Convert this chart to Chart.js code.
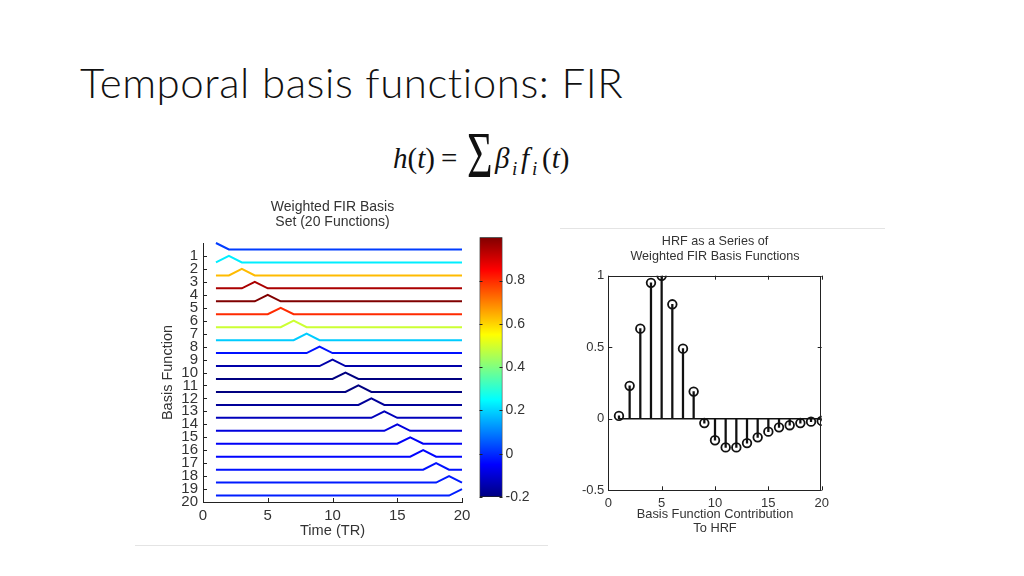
<!DOCTYPE html>
<html>
<head>
<meta charset="utf-8">
<title>Temporal basis functions: FIR</title>
<script src="https://cdn.jsdelivr.net/npm/chart.js@4.4.0/dist/chart.umd.min.js"></script>
<style>
  body { margin: 0; background: #fff; width: 1024px; height: 576px; overflow: hidden; position: relative; }
  #slideTitle { position: absolute; left: 80px; top: 60.5px; font-family: Lato, "Open Sans", sans-serif; font-weight: 300; font-size: 42px; line-height: 42px; color: #111; white-space: nowrap; }
  .fm { position: absolute; font-family: "Liberation Serif", "DejaVu Serif", serif; color: #111; white-space: nowrap; }
  .fm i { font-style: italic; }
  .main { font-size: 29px; line-height: 29px; top: 143.7px; }
  .sub { font-size: 19px; line-height: 19px; top: 158.6px; font-style: italic; }
  .sigma { font-size: 44px; line-height: 44px; top: 141.2px; display: inline-block; transform-origin: 50% 36.85px; transform: scaleY(1.48); }
  canvas { position: absolute; }
  .edge { position: absolute; height: 1px; background: #e4e4e4; }
</style>
</head>
<body>
<div id="slideTitle">Temporal basis functions: FIR</div>
<span class="fm main" style="left:393px;"><i>h</i>(<i>t</i>)</span>
<span class="fm main" style="left:441px;">=</span>
<span class="fm sigma" style="left:467px;">&Sigma;</span>
<span class="fm main" style="left:495px;"><i>&beta;</i></span>
<span class="fm sub" style="left:512px;">i</span>
<span class="fm main" style="left:521px;"><i>f</i></span>
<span class="fm sub" style="left:532px;">i</span>
<span class="fm main" style="left:542px;">(<i>t</i>)</span>
<div class="edge" style="left:135px; top:545px; width:413px;"></div>
<div class="edge" style="left:560px; top:228px; width:325px;"></div>
<canvas id="basisChart" width="330" height="350" style="left:150px; top:195px;"></canvas>
<canvas id="colorbar" width="70" height="290" style="left:470px; top:225px;"></canvas>
<canvas id="hrfChart" width="330" height="312" style="left:560px; top:228px;"></canvas>
<script>
// time samples (TR) and the FIR basis set
const timePoints = [1, 2, 3, 4, 5, 6, 7, 8, 9, 10, 11, 12, 13, 14, 15, 16, 17, 18, 19, 20];
const peakTimes = [1, 2, 3, 4, 5, 6, 7, 8, 9, 10, 11, 12, 13, 14, 15, 16, 17, 18, 19, 20];
const baselineLevels = [0.5, 1.5, 2.5, 3.5, 4.5, 5.5, 6.5, 7.5, 8.5, 9.5, 10.5, 11.5, 12.5, 13.5, 14.5, 15.5, 16.5, 17.5, 18.5, 19.5];
const peakHeight = 0.5;

// weights of each basis function (the HRF)
const hrfWeights = [0.02, 0.23, 0.63, 0.95, 1.0, 0.8, 0.49, 0.19, -0.03, -0.15,
  -0.2, -0.2, -0.17, -0.13, -0.09, -0.06, -0.045, -0.03, -0.02, -0.015];

// tick labels
const basisTicks = [1, 2, 3, 4, 5, 6, 7, 8, 9, 10, 11, 12, 13, 14, 15, 16, 17, 18, 19, 20];
const timeTicks = [0, 5, 10, 15, 20];
const hrfTicks = [-0.5, 0, 0.5, 1];
const colorbarTicks = [-0.2, 0, 0.2, 0.4, 0.6, 0.8];
const colorRange = [-0.2, 1.0];

const textColor = "#333";
const sans = "'Liberation Sans', Arial, sans-serif";

// fit the slide title to the width it has on the slide
const titleEl = document.getElementById("slideTitle");
const tw = titleEl.getBoundingClientRect().width;
titleEl.style.letterSpacing = ((544 - tw) / 29).toFixed(2) + "px";

function jet(w) {
  const v = Math.min(1, Math.max(0, (w - colorRange[0]) / (colorRange[1] - colorRange[0])));
  const c = (x) => Math.round(255 * Math.min(1, Math.max(0, 1.5 - Math.abs(4 * v - x))));
  return `rgb(${c(3)},${c(2)},${c(1)})`;
}

// MATLAB-style tick marks pointing into the axes
const innerTicks = {
  id: "innerTicks",
  afterDraw(chart, args, opts) {
    const { ctx, chartArea: a } = chart;
    const len = opts.length || 4;
    ctx.save();
    ctx.strokeStyle = opts.color || "#222";
    ctx.lineWidth = 1;
    if (opts.box) {
      ctx.strokeRect(Math.round(a.left) + 0.5, Math.round(a.top) + 0.5, Math.round(a.width) - 1, Math.round(a.height) - 1);
    }
    ctx.beginPath();
    Object.values(chart.scales).forEach((s) => {
      if (!s.options.display) return;
      s.ticks.forEach((t) => {
        const p = Math.round(s.getPixelForValue(t.value)) + 0.5;
        if (s.isHorizontal()) {
          ctx.moveTo(p, a.bottom); ctx.lineTo(p, a.bottom - len);
          if (opts.mirror) { ctx.moveTo(p, a.top); ctx.lineTo(p, a.top + len); }
        } else {
          ctx.moveTo(a.left, p); ctx.lineTo(a.left + len, p);
          if (opts.mirror) { ctx.moveTo(a.right, p); ctx.lineTo(a.right - len, p); }
        }
      });
    });
    ctx.stroke();
    ctx.restore();
  },
};

// left: weighted FIR basis set
new Chart(document.getElementById("basisChart"), {
  type: "line",
  data: {
    datasets: peakTimes.map((pk, i) => ({
      data: timePoints.map((t) => ({ x: t, y: baselineLevels[i] - (t === pk ? peakHeight : 0) })),
      borderColor: jet(hrfWeights[i]),
      borderWidth: 2,
      pointRadius: 0,
      tension: 0,
      clip: false,
    })),
  },
  options: {
    responsive: false,
    animation: false,
    layout: { padding: { right: 18 } },
    plugins: {
      legend: { display: false },
      tooltip: { enabled: false },
      title: {
        display: true,
        text: ["Weighted FIR Basis", "Set (20 Functions)"],
        fullSize: false,
        color: textColor,
        font: { family: sans, size: 14, weight: "normal", lineHeight: 15 / 14 },
        padding: { top: 5, bottom: 13 },
      },
      innerTicks: { length: 4 },
    },
    scales: {
      x: {
        type: "linear",
        min: 0,
        max: 20,
        afterBuildTicks: (s) => { s.ticks = timeTicks.map((v) => ({ value: v })); },
        afterFit: (s) => { s.height = 43; },
        ticks: { color: textColor, font: { family: sans, size: 15 }, padding: 5, maxRotation: 0 },
        grid: { display: false, drawTicks: false },
        border: { display: true, color: "#222", width: 1 },
        title: { display: true, text: "Time (TR)", color: textColor, font: { family: sans, size: 14.6 }, padding: { top: 0, bottom: 5 } },
      },
      y: {
        type: "linear",
        min: 0,
        max: 20,
        reverse: true,
        afterBuildTicks: (s) => { s.ticks = basisTicks.map((v) => ({ value: v })); },
        afterFit: (s) => { s.width = 53; },
        ticks: { color: textColor, font: { family: sans, size: 15 }, padding: 5, autoSkip: false },
        grid: { display: false, drawTicks: false },
        border: { display: true, color: "#222", width: 1 },
        title: { display: true, text: "Basis Function", color: textColor, font: { family: sans, size: 14.5 }, padding: { top: 9, bottom: 0 } },
      },
    },
  },
  plugins: [innerTicks],
});

// colour bar for the weights
new Chart(document.getElementById("colorbar"), {
  type: "bar",
  data: {
    labels: ["weight"],
    datasets: [{
      data: [colorRange],
      backgroundColor: (c) => {
        const area = c.chart.chartArea;
        if (!area) return "#888";
        const g = c.chart.ctx.createLinearGradient(0, area.bottom, 0, area.top);
        for (let k = 0; k <= 16; k++) {
          const v = k / 16;
          g.addColorStop(v, jet(colorRange[0] + v * (colorRange[1] - colorRange[0])));
        }
        return g;
      },
      borderColor: "#222",
      borderWidth: 1,
      borderSkipped: false,
      barPercentage: 1,
      categoryPercentage: 1,
    }],
  },
  options: {
    responsive: false,
    animation: false,
    layout: { padding: { left: 9.5, top: 12.3, bottom: 18 } },
    plugins: {
      legend: { display: false },
      tooltip: { enabled: false },
      innerTicks: { length: 3, mirror: true },
    },
    scales: {
      x: { display: false },
      y: {
        position: "right",
        min: colorRange[0],
        max: colorRange[1],
        afterBuildTicks: (s) => { s.ticks = colorbarTicks.map((v) => ({ value: v })); },
        afterFit: (s) => { s.width = 37.5; },
        ticks: { color: textColor, font: { family: sans, size: 14 }, padding: 3, callback: (v) => String(Math.round(v * 10) / 10) },
        grid: { display: false, drawTicks: false },
        border: { display: false },
      },
    },
  },
  plugins: [innerTicks],
});

// right: HRF as stems
const stemPoints = hrfWeights.map((w, i) => ({ x: timePoints[i], y: w }));
new Chart(document.getElementById("hrfChart"), {
  data: {
    datasets: [
      {
        type: "line",
        data: [{ x: timePoints[0], y: 0 }, { x: timePoints[timePoints.length - 1], y: 0 }],
        borderColor: "#111",
        borderWidth: 1.5,
        pointRadius: 0,
      },
      {
        type: "bar",
        data: stemPoints,
        backgroundColor: "#111",
        barThickness: 1.6,
        borderWidth: 0,
      },
      {
        type: "line",
        data: stemPoints,
        showLine: false,
        pointRadius: 4.3,
        pointBorderWidth: 1.8,
        pointBorderColor: "#111",
        pointBackgroundColor: "rgba(255,255,255,0)",
      },
    ],
  },
  options: {
    responsive: false,
    animation: false,
    layout: { padding: { right: 68.3 } },
    plugins: {
      legend: { display: false },
      tooltip: { enabled: false },
      title: {
        display: true,
        text: ["HRF as a Series of", "Weighted FIR Basis Functions"],
        fullSize: false,
        color: textColor,
        font: { family: sans, size: 12.6, weight: "normal", lineHeight: 15 / 12.6 },
        padding: { top: 6.5, bottom: 11.2 },
      },
      innerTicks: { length: 4, mirror: true, box: true },
    },
    scales: {
      x: {
        type: "linear",
        min: 0,
        max: 20,
        offset: false,
        afterBuildTicks: (s) => { s.ticks = timeTicks.map((v) => ({ value: v })); },
        afterFit: (s) => { s.height = 49.7; },
        ticks: { color: textColor, font: { family: sans, size: 13 }, padding: 5, maxRotation: 0 },
        grid: { display: false, drawTicks: false, offset: false },
        border: { display: false },
        title: { display: true, text: ["Basis Function Contribution", "To HRF"], color: textColor, font: { family: sans, size: 12.8, lineHeight: 14 / 12.8 }, padding: { top: 0, bottom: 4.7 } },
      },
      y: {
        type: "linear",
        min: -0.5,
        max: 1,
        afterBuildTicks: (s) => { s.ticks = hrfTicks.map((v) => ({ value: v })); },
        afterFit: (s) => { s.width = 48.3; },
        ticks: { color: textColor, font: { family: sans, size: 13 }, padding: 4, callback: (v) => String(v) },
        grid: { display: false, drawTicks: false },
        border: { display: false },
      },
    },
  },
  plugins: [innerTicks],
});
</script>
</body>
</html>
